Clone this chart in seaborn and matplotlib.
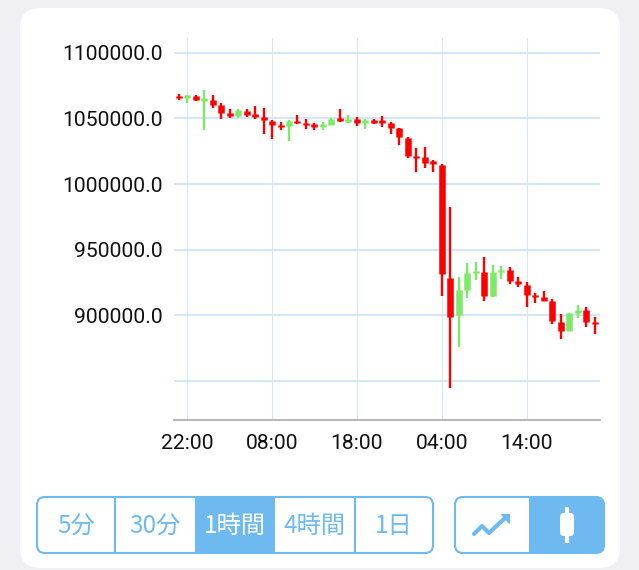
import matplotlib
matplotlib.use("Agg")
import matplotlib.pyplot as plt
import pandas as pd
import seaborn as sns
from matplotlib.patches import FancyBboxPatch, Rectangle, Polygon

opens = [1066970, 1066210, 1066720, 1063930, 1064190, 1060390, 1053800, 1051770, 1055830, 1053040,
         1050760, 1047980, 1044690, 1043920, 1048230, 1046460, 1044940, 1044180, 1045190, 1050000,
         1047220, 1049240, 1046960, 1048230, 1048480, 1046430, 1042400, 1035030, 1020890, 1020360,
         1016560, 1014790, 928160, 900300, 919290, 932720, 932720, 914990, 932970, 934240,
         925880, 923350, 915240, 913970, 910680, 895230, 888140, 902070, 904100, 894470]
closes = [1065450, 1067000, 1063680, 1064440, 1060390, 1054050, 1051770, 1056080, 1052790, 1051270,
          1049240, 1044940, 1043420, 1047980, 1046200, 1045190, 1043920, 1044940, 1049500, 1047720,
          1049750, 1046710, 1048230, 1047470, 1047220, 1042400, 1035560, 1021350, 1020130, 1016030,
          1016030, 931200, 899030, 919290, 932470, 933220, 914990, 932970, 934490, 926130,
          924110, 915750, 914230, 911190, 895740, 888140, 901810, 903840, 894970, 893960]
highs = [1068750, 1067500, 1067750, 1071280, 1068000, 1061660, 1056840, 1057350, 1057350, 1059120,
         1057860, 1048480, 1047220, 1048480, 1052790, 1049240, 1046710, 1047220, 1050260, 1057350,
         1052280, 1051020, 1049240, 1049500, 1051520, 1046960, 1042400, 1035560, 1027200, 1028190,
         1018080, 1015040, 982620, 928920, 939550, 940820, 944120, 938290, 937780, 937030,
         929430, 925370, 916760, 918280, 912450, 901310, 902070, 907640, 906120, 899030]
lows = [1063680, 1061660, 1063170, 1040880, 1057860, 1049750, 1050260, 1050260, 1051020, 1049750,
        1038350, 1034550, 1040880, 1032780, 1045700, 1041640, 1040880, 1040880, 1044690, 1047220,
        1046710, 1044180, 1041900, 1045950, 1043670, 1037840, 1029480, 1019830, 1008960, 1012230,
        1008960, 914990, 844570, 876230, 912960, 926890, 911190, 914230, 927400, 923600,
        921320, 906120, 909410, 910680, 893710, 882060, 887880, 898270, 891430, 886110]
y_ticks = [1100000, 1050000, 1000000, 950000, 900000, 850000]
y_labels = ["1100000.0", "1050000.0", "1000000.0", "950000.0", "900000.0", ""]
x_ticks = [1, 11, 21, 31, 41]
x_labels = ["22:00", "08:00", "18:00", "04:00", "14:00"]
buttons = ["5分", "30分", "1時間", "4時間", "1日"]

RED, GREEN, BLUE = "#ff0000", "#7ee868", "#6eb9f0"
W, H = 639, 570
MIN_BODY = 2000  # shortest drawn body, about 2.5 px, as the app renders dojis

sns.set_theme(style="white")
plt.rcParams["font.family"] = ["Roboto", "Noto Sans CJK JP", "DejaVu Sans"]
fig = plt.figure(figsize=(W / 100, H / 100), dpi=100, facecolor="#efeff4")

# Page furniture, in pixel coordinates
bg = fig.add_axes([0, 0, 1, 1], zorder=0)
bg.set_xlim(0, W); bg.set_ylim(H, 0); bg.axis("off")
bg.add_patch(FancyBboxPatch((20, 8), 600, 560, boxstyle="round,pad=0,rounding_size=20", fc="white", ec="none"))

def rounded(x0, x1, fc):
    p = FancyBboxPatch((x0, 497), x1 - x0, 56, boxstyle="round,pad=0,rounding_size=8", fc=fc, ec="none")
    bg.add_patch(p)
    return p

g1 = rounded(37, 433, "white")
sel = Rectangle((195, 497), 80, 56, fc=BLUE, ec="none")
bg.add_patch(sel); sel.set_clip_path(g1)
for dx in (115, 355):
    bg.plot([dx, dx], [497, 553], color=BLUE, lw=1.5, solid_capstyle="butt")
for cx, label in zip((76, 155, 235, 315, 394), buttons):
    bg.text(cx, 526, label, ha="center", va="center", fontsize=17.5,
            color="white" if label == "1時間" else BLUE,
            family=["Noto Sans CJK JP", "DejaVu Sans"])
g2 = rounded(455, 604, BLUE)
left = Rectangle((455, 497), 74, 56, fc="white", ec="none")
bg.add_patch(left); left.set_clip_path(g2)
for x0, x1 in ((37, 433), (455, 604)):
    bg.add_patch(FancyBboxPatch((x0, 497), x1 - x0, 56, boxstyle="round,pad=0,rounding_size=8",
                                fc="none", ec=BLUE, lw=1.5))
bg.plot([474, 482, 489, 505], [534, 526, 533, 518], color=BLUE, lw=3, solid_capstyle="round", solid_joinstyle="round")
bg.add_patch(Polygon([(500.5, 514), (509, 514), (509, 522.7)], fc=BLUE, ec=BLUE, lw=0.8))
bg.plot([566.7, 566.7], [507, 543], color="white", lw=3, solid_capstyle="butt")
bg.add_patch(FancyBboxPatch((560, 513), 14, 23, boxstyle="round,pad=0,rounding_size=4", fc="white", ec="none"))

# Chart
ax = fig.add_axes([174 / W, (H - 420) / H, 426 / W, 382 / H], zorder=1)
ax.patch.set_alpha(0)

base = pd.DataFrame({"i": range(len(opens)), "open": opens, "close": closes, "high": highs, "low": lows})
base["dir"] = ["up" if c > o else "down" for o, c in zip(opens, closes)]
mid = (base["open"] + base["close"]) / 2
half = ((base["open"] - base["close"]).abs() / 2).clip(lower=MIN_BODY / 2)
base["top"] = mid + half
base["bot"] = mid - half
wicks = base.melt(id_vars=["i", "dir"], value_vars=["high", "low"], value_name="price").sort_values(["i", "variable"])
bodies = base.melt(id_vars=["i", "dir"], value_vars=["top", "bot"], value_name="price").sort_values(["i", "variable"])
palette = {"up": GREEN, "down": RED}

ax.set_axisbelow(True)
sns.lineplot(data=wicks, x="i", y="price", units="i", hue="dir", palette=palette, estimator=None, sort=False,
             legend=False, linewidth=1.7, solid_capstyle="butt", ax=ax, zorder=3)
sns.lineplot(data=bodies, x="i", y="price", units="i", hue="dir", palette=palette, estimator=None, sort=False,
             legend=False, linewidth=4.7, solid_capstyle="butt", ax=ax, zorder=4)

ax.set_xlim(-0.53, 49.59)
ax.set_ylim(820300, 1111200)
ax.set_xticks(x_ticks, x_labels)
ax.set_yticks(y_ticks, y_labels)
ax.set_xlabel(""); ax.set_ylabel("")
ax.grid(axis="y", color="#c6dff3", lw=1.1)
ax.grid(axis="x", color="#d6e7f6", lw=0.8)
ax.tick_params(axis="both", length=0, labelsize=15.2, labelcolor="#111111")
ax.tick_params(axis="y", pad=8)
ax.tick_params(axis="x", pad=10)
for s in ("left", "right", "top"):
    ax.spines[s].set_visible(False)
ax.spines["bottom"].set_color("#aaaaaa")
ax.spines["bottom"].set_linewidth(1.2)

fig.savefig("out.png", dpi=100, facecolor=fig.get_facecolor())
